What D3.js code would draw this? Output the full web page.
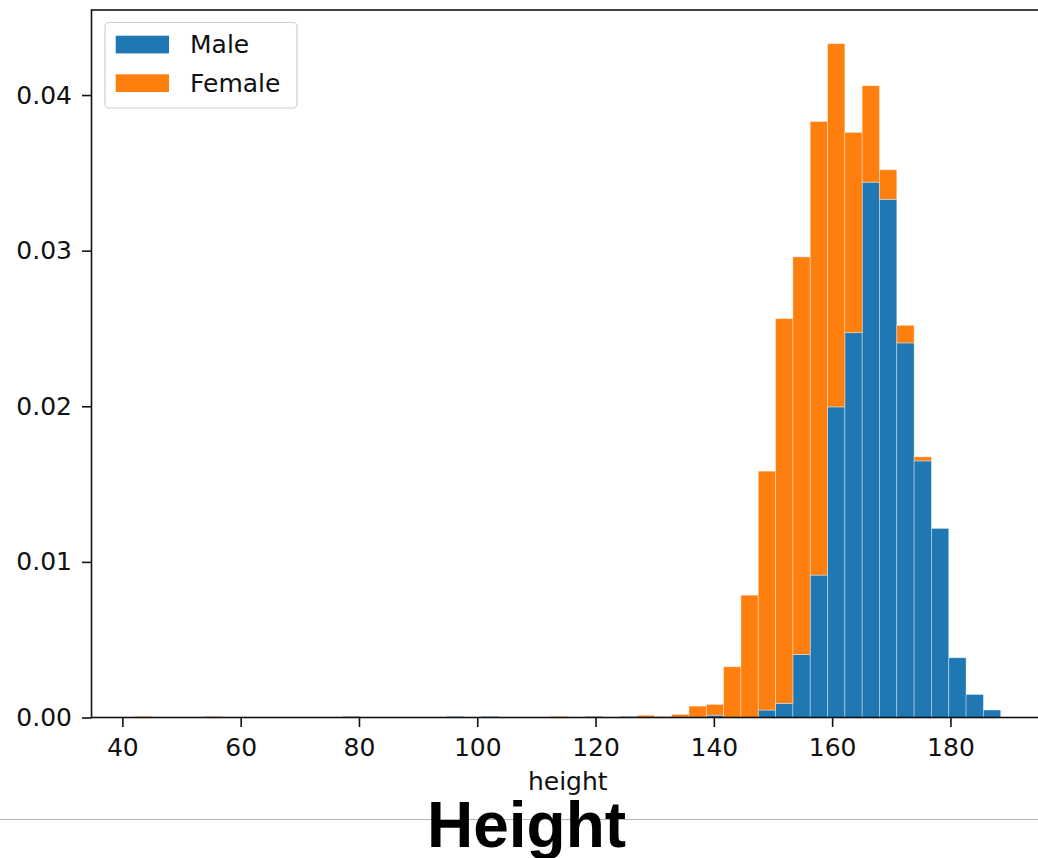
<!DOCTYPE html>
<html>
<head>
<meta charset="utf-8">
<script src="https://cdn.jsdelivr.net/npm/d3@7"></script>
<style>
  body { margin: 0; background: #fff; }
  svg { display: block; }
</style>
</head>
<body>
<svg id="chart" width="1038" height="858"></svg>
<script>
// Stacked density histogram of height, 50 shared bins.
const seriesNames = ["Male", "Female"];
const seriesColors = ["#1f77b4", "#ff7f0e"];
const binStart = 42.1;
const binWidth = 2.928;

const maleDensity = [
  0, 0, 0, 0, 0, 0, 0, 0, 0, 0,
  0, 0, 0.00007, 0, 0, 0, 0, 0, 0.00007, 0,
  0.00007, 0, 0, 0, 0, 0, 0.00007, 0, 0.00007, 0,
  0, 0, 0, 0.00015, 0, 0, 0.00048, 0.00091, 0.00405, 0.00915,
  0.01996, 0.02473, 0.0344, 0.0333, 0.02407, 0.01649, 0.01215, 0.00384, 0.00148, 0.00048
];
const femaleDensity = [
  0.00007, 0, 0, 0, 0.00007, 0, 0, 0, 0, 0,
  0, 0, 0, 0, 0, 0, 0, 0, 0, 0,
  0, 0, 0, 0, 0.00007, 0, 0, 0, 0, 0.00014,
  0.00007, 0.0002, 0.00073, 0.00069, 0.00326, 0.00786, 0.01535, 0.02472, 0.02555, 0.02915,
  0.02334, 0.01287, 0.0062, 0.0019, 0.00113, 0.00026, 0, 0, 0, 0
];

const xTickValues = [40, 60, 80, 100, 120, 140, 160, 180];
const yTickValues = [0, 0.01, 0.02, 0.03, 0.04];
const xLabel = "height";
const pageTitle = "Height";

const W = 1038, H = 858;
const plot = { left: 91.5, top: 10, right: 1044, bottom: 717.5 };
const tickFont = "'DejaVu Sans', sans-serif";

const svg = d3.select("#chart");

// Rows for stacking
const rows = maleDensity.map((m, i) => ({
  x0: binStart + i * binWidth,
  x1: binStart + (i + 1) * binWidth,
  Male: m,
  Female: femaleDensity[i]
}));
const stacked = d3.stack().keys(seriesNames)(rows);

const xMin = binStart, xMax = binStart + maleDensity.length * binWidth;
const xPad = (xMax - xMin) * 0.05;
const x = d3.scaleLinear().domain([xMin - xPad, xMax + xPad]).range([plot.left, plot.right]);
const topTotal = d3.max(rows, d => d.Male + d.Female);
const y = d3.scaleLinear().domain([0, topTotal * 1.05]).range([plot.bottom, plot.top]);

svg.append("defs").append("clipPath").attr("id", "plotClip")
  .append("rect")
  .attr("x", plot.left).attr("y", plot.top)
  .attr("width", plot.right - plot.left).attr("height", plot.bottom - plot.top);

// Bars
const barLayer = svg.append("g").attr("clip-path", "url(#plotClip)");
stacked.forEach((layer, k) => {
  barLayer.append("g")
    .attr("fill", seriesColors[k])
    .selectAll("rect")
    .data(layer.filter(d => d[1] - d[0] > 0))
    .join("rect")
    .attr("x", d => x(d.data.x0))
    .attr("width", d => x(d.data.x1) - x(d.data.x0))
    .attr("y", d => y(d[1]))
    .attr("height", d => y(d[0]) - y(d[1]))
    .attr("stroke", "#ffffff")
    .attr("stroke-opacity", 0.45)
    .attr("stroke-width", 0.8);
});

// Axes
const xAxis = d3.axisBottom(x).tickValues(xTickValues).tickFormat(d3.format("d"))
  .tickSize(9.5).tickPadding(11).tickSizeOuter(0);
const yAxis = d3.axisLeft(y).tickValues(yTickValues).tickFormat(d3.format(".2f"))
  .tickSize(9.5).tickPadding(10).tickSizeOuter(0);

const gx = svg.append("g").attr("transform", `translate(0,${plot.bottom})`).call(xAxis);
const gy = svg.append("g").attr("transform", `translate(${plot.left},0)`).call(yAxis);
[gx, gy].forEach(g => {
  g.select(".domain").remove();
  g.selectAll(".tick line").attr("stroke", "#111").attr("stroke-width", 1.6);
  g.selectAll(".tick text").attr("fill", "#111")
    .style("font-family", tickFont).style("font-size", "25px");
});

// Frame (right edge lies beyond the page)
svg.append("rect")
  .attr("x", plot.left).attr("y", plot.top)
  .attr("width", plot.right - plot.left).attr("height", plot.bottom - plot.top)
  .attr("fill", "none").attr("stroke", "#111").attr("stroke-width", 1.6);

// Axis label
svg.append("text")
  .attr("x", (plot.left + plot.right) / 2).attr("y", 790)
  .attr("text-anchor", "middle")
  .style("font-family", tickFont).style("font-size", "25px")
  .attr("fill", "#111")
  .text(xLabel);

// Legend
const legend = svg.append("g");
legend.append("rect")
  .attr("x", 105).attr("y", 22.5).attr("width", 192).attr("height", 85.5)
  .attr("rx", 4).attr("fill", "#fff").attr("fill-opacity", 0.8)
  .attr("stroke", "#d0d0d0").attr("stroke-width", 1.2);
seriesNames.forEach((name, i) => {
  const gy0 = 35.7 + i * 38.6;
  legend.append("rect")
    .attr("x", 115.7).attr("y", gy0).attr("width", 53.3).attr("height", 17.7)
    .attr("fill", seriesColors[i]);
  legend.append("text")
    .attr("x", 190).attr("y", gy0 + 17.6)
    .style("font-family", tickFont).style("font-size", "25px")
    .attr("fill", "#111")
    .text(name);
});

// Page rule and heading below the chart
svg.append("line")
  .attr("x1", 0).attr("x2", W).attr("y1", 819.5).attr("y2", 819.5)
  .attr("stroke", "#b4b4b4").attr("stroke-width", 1);
svg.append("text")
  .attr("x", 526.5).attr("y", 846.5)
  .attr("text-anchor", "middle")
  .style("font-family", "'Liberation Sans', Arial, sans-serif")
  .style("font-weight", "bold").style("font-size", "64px")
  .attr("fill", "#000")
  .text(pageTitle);
</script>
</body>
</html>
